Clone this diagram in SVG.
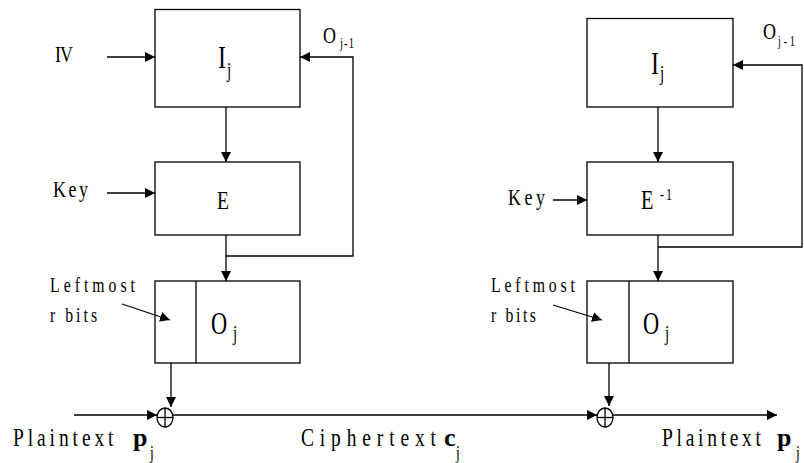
<svg xmlns="http://www.w3.org/2000/svg" width="804" height="463" viewBox="0 0 804 463">
<style>
.box{fill:#fff;stroke:#000;stroke-width:1.3}
.ln{fill:none;stroke:#000;stroke-width:1.3}
.arr{fill:none;stroke:#000;stroke-width:1.3;marker-end:url(#ah)}
text{font-family:"Liberation Serif","Times New Roman",serif;fill:#000}
.b{font-weight:bold}
</style>
<defs>
<marker id="ah" markerUnits="userSpaceOnUse" markerWidth="11" markerHeight="10" refX="10" refY="5" orient="auto" viewBox="0 0 11 10">
<path d="M0,0 L10,5 L0,10 z" fill="#000"/>
</marker>
</defs>
<rect width="804" height="463" fill="#fff"/>

<g id="enc-input">
<rect class="box" x="155" y="9.5" width="145" height="97.5"/>
<text transform="translate(218,68) scale(0.75,1)" font-size="32">I</text>
<text transform="translate(227,77) scale(0.75,1)" font-size="20">j</text>
</g>
<g id="enc-cipher">
<rect class="box" x="155" y="162" width="145" height="73"/>
<text transform="translate(217,209) scale(0.75,1)" font-size="26">E</text>
</g>
<g id="enc-output">
<rect class="box" x="155" y="281" width="145" height="82"/>
<line class="ln" x1="196" y1="281" x2="196" y2="363"/>
<text transform="translate(211,334) scale(0.7,1)" font-size="32">O</text>
<text transform="translate(233,340) scale(0.75,1)" font-size="20">j</text>
</g>
<g id="enc-labels">
<text transform="translate(55,62) scale(0.75,1)" font-size="24" textLength="24" lengthAdjust="spacing">IV</text>
<text transform="translate(53,197) scale(0.75,1)" font-size="24" textLength="46.7" lengthAdjust="spacing">Key</text>
<text transform="translate(323,43) scale(0.75,1)" font-size="24">O</text>
<text transform="translate(340,48) scale(0.75,1)" font-size="14" textLength="18.7" lengthAdjust="spacing">j-1</text>
<text transform="translate(50,292) scale(0.75,1)" font-size="21" textLength="113.3" lengthAdjust="spacing">Leftmost</text>
<text transform="translate(50,322) scale(0.75,1)" font-size="21" textLength="62.7" lengthAdjust="spacing">r bits</text>
</g>
<g id="enc-xor">
<ellipse class="ln" cx="165" cy="417.5" rx="8" ry="9.5"/>
<line class="ln" x1="157" y1="417.5" x2="173" y2="417.5"/>
<line class="ln" x1="165" y1="408" x2="165" y2="427"/>
</g>

<g id="dec-input">
<rect class="box" x="587" y="18.5" width="146" height="88.5"/>
<text transform="translate(651,74) scale(0.75,1)" font-size="32">I</text>
<text transform="translate(660,80) scale(0.75,1)" font-size="20">j</text>
</g>
<g id="dec-cipher">
<rect class="box" x="587" y="162" width="146" height="73"/>
<text transform="translate(641,209) scale(0.75,1)" font-size="27">E</text>
<text transform="translate(660,200) scale(0.75,1)" font-size="16" textLength="16" lengthAdjust="spacing">-1</text>
</g>
<g id="dec-output">
<rect class="box" x="587" y="281" width="146" height="82"/>
<line class="ln" x1="629" y1="281" x2="629" y2="363"/>
<text transform="translate(643,334) scale(0.7,1)" font-size="32">O</text>
<text transform="translate(665,340) scale(0.75,1)" font-size="20">j</text>
</g>
<g id="dec-labels">
<text transform="translate(508,205) scale(0.75,1)" font-size="24" textLength="49.3" lengthAdjust="spacing">Key</text>
<text transform="translate(763,39) scale(0.75,1)" font-size="24">O</text>
<text transform="translate(778,46) scale(0.75,1)" font-size="14" textLength="22.7" lengthAdjust="spacing">j-1</text>
<text transform="translate(491,292) scale(0.75,1)" font-size="21" textLength="112" lengthAdjust="spacing">Leftmost</text>
<text transform="translate(491,322) scale(0.75,1)" font-size="21" textLength="60" lengthAdjust="spacing">r bits</text>
</g>
<g id="dec-xor">
<ellipse class="ln" cx="605" cy="417.5" rx="8" ry="9.5"/>
<line class="ln" x1="597" y1="417.5" x2="613" y2="417.5"/>
<line class="ln" x1="605" y1="408" x2="605" y2="427"/>
</g>

<g id="bottom-labels">
<text transform="translate(13,446) scale(0.75,1)" font-size="26" textLength="134" lengthAdjust="spacing">Plaintext</text>
<text class="b" x="133" y="446" font-size="26">p</text>
<text transform="translate(150,459) scale(0.75,1)" font-size="18">j</text>
<text transform="translate(301,446) scale(0.75,1)" font-size="26" textLength="180" lengthAdjust="spacing">Ciphertext</text>
<text class="b" x="444" y="446" font-size="26">c</text>
<text transform="translate(456,459) scale(0.75,1)" font-size="18">j</text>
<text transform="translate(662,446) scale(0.75,1)" font-size="26" textLength="132" lengthAdjust="spacing">Plaintext</text>
<text class="b" x="777" y="446" font-size="26">p</text>
<text transform="translate(796,459) scale(0.75,1)" font-size="18">j</text>
</g>

<g id="connectors">
<line class="arr" x1="107" y1="57" x2="155" y2="57"/>
<line class="arr" x1="107" y1="193" x2="155" y2="193"/>
<line class="arr" x1="226" y1="107" x2="226" y2="162"/>
<line class="arr" x1="226" y1="235" x2="226" y2="281"/>
<polyline class="arr" points="226,256 353,256 353,57 300,57"/>
<line class="arr" x1="122" y1="304" x2="170" y2="320"/>
<line class="arr" x1="171" y1="363" x2="171" y2="407"/>
<line class="arr" x1="74" y1="415" x2="157" y2="415"/>
<line class="arr" x1="173" y1="415" x2="597" y2="415"/>
<line class="arr" x1="553" y1="200" x2="587" y2="200"/>
<line class="arr" x1="658" y1="107" x2="658" y2="162"/>
<line class="arr" x1="658" y1="235" x2="658" y2="281"/>
<polyline class="arr" points="658,247 802,247 802,65 733,65"/>
<line class="arr" x1="553" y1="305" x2="602" y2="320"/>
<line class="arr" x1="609" y1="363" x2="609" y2="406"/>
<line class="arr" x1="613" y1="415" x2="777" y2="415"/>
</g>
</svg>
